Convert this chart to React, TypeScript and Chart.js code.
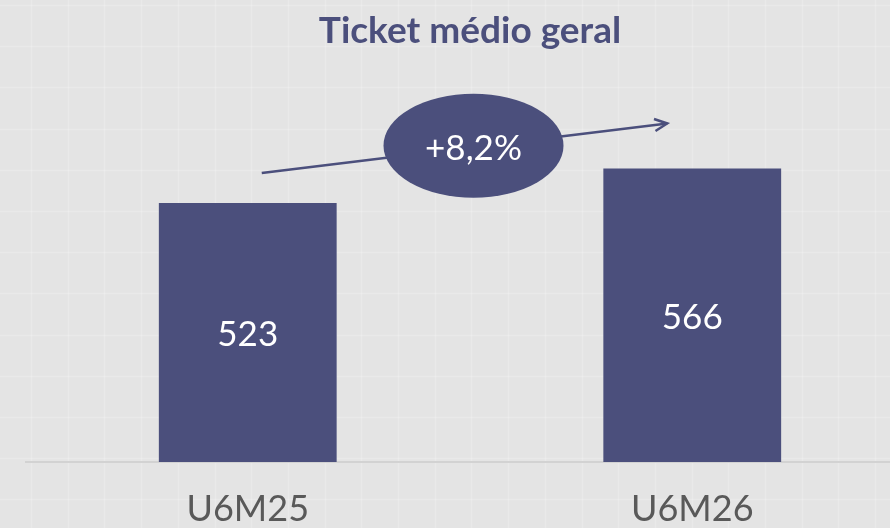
import React, { useEffect, useRef } from "react";
import { Chart, registerables } from "chart.js";

Chart.register(...registerables);

const categories = ["U6M25", "U6M26"];
const values = [523, 566];
const chartTitle = "Ticket médio geral";
const axisMin = 200;
const axisMax = 700;

const NAVY = "#4b4f7c";
const FONT = "Lato, 'Open Sans', sans-serif";

export default function App() {
  const ref = useRef<HTMLCanvasElement>(null);

  useEffect(() => {
    if (!ref.current) return;
    const change = values[1] / values[0] - 1;
    const changeLabel =
      (change >= 0 ? "+" : "") + (change * 100).toFixed(1).replace(".", ",") + "%";

    const bgPlugin = {
      id: "bg",
      beforeDraw(chart: any) {
        const { ctx, width, height } = chart;
        ctx.save();
        ctx.fillStyle = "#e4e4e4";
        ctx.fillRect(0, 0, width, height);
        ctx.strokeStyle = "rgba(255,255,255,0.2)";
        ctx.lineWidth = 1.5;
        for (let x = 31; x < width; x += 36.7) {
          ctx.beginPath();
          ctx.moveTo(Math.round(x) + 0.5, 0);
          ctx.lineTo(Math.round(x) + 0.5, height);
          ctx.stroke();
        }
        for (let y = 5; y < height; y += 41.2) {
          ctx.beginPath();
          ctx.moveTo(0, Math.round(y) + 0.5);
          ctx.lineTo(width, Math.round(y) + 0.5);
          ctx.stroke();
        }
        ctx.restore();
      },
    };

    const overlay = {
      id: "overlay",
      afterDatasetsDraw(chart: any) {
        const { ctx, chartArea } = chart;
        const meta = chart.getDatasetMeta(0);
        const b0 = meta.data[0];
        const b1 = meta.data[1];
        ctx.save();
        // value labels
        ctx.fillStyle = "#ffffff";
        ctx.font = `35px ${FONT}`;
        ctx.textAlign = "center";
        ctx.textBaseline = "alphabetic";
        meta.data.forEach((b: any, i: number) => {
          ctx.fillText(String(values[i]), b.x, (b.y + chartArea.bottom) / 2 + 13.5);
        });

        // arrow
        const x0 = b0.x + 14;
        const y0 = b0.y - 30;
        const x1 = b1.x - 25;
        const y1 = b1.y - 45;
        ctx.strokeStyle = NAVY;
        ctx.lineWidth = 2.5;
        ctx.beginPath();
        ctx.moveTo(x0, y0);
        ctx.lineTo(x1, y1);
        ctx.stroke();
        const ang = Math.atan2(y1 - y0, x1 - x0);
        const ah = 14;
        ctx.beginPath();
        ctx.moveTo(x1 - ah * Math.cos(ang - 0.45), y1 - ah * Math.sin(ang - 0.45));
        ctx.lineTo(x1, y1);
        ctx.lineTo(x1 - ah * Math.cos(ang + 0.45), y1 - ah * Math.sin(ang + 0.45));
        ctx.stroke();

        // ellipse
        const cx = (x0 + x1) / 2 + 9;
        const cy = (y0 + y1) / 2 - 2.5;
        ctx.fillStyle = NAVY;
        ctx.beginPath();
        ctx.ellipse(cx, cy, 90, 52, 0, 0, Math.PI * 2);
        ctx.fill();
        ctx.fillStyle = "#ffffff";
        ctx.font = `35px ${FONT}`;
        ctx.fillText(changeLabel, cx, cy + 14);

        // title
        ctx.fillStyle = NAVY;
        ctx.font = `bold 37px ${FONT}`;
        ctx.fillText(chartTitle, 470, 43);
        ctx.restore();
      },
    };

    const chart = new Chart(ref.current, {
      type: "bar",
      data: {
        labels: categories,
        datasets: [
          {
            data: values,
            backgroundColor: NAVY,
            borderWidth: 0,
            barPercentage: 0.4,
            categoryPercentage: 1,
          },
        ],
      },
      options: {
        animation: false,
        responsive: true,
        maintainAspectRatio: false,
        layout: { padding: { top: 61, left: 25.5, right: 25.5, bottom: 0 } },
        plugins: {
          legend: { display: false },
          tooltip: { enabled: false },
          title: { display: false },
        },
        scales: {
          y: { display: false, min: axisMin, max: axisMax },
          x: {
            grid: { display: false, drawTicks: false },
            border: { display: true, color: "#d2d2d2", width: 2 },
            ticks: {
              color: "#595959",
              font: { family: FONT, size: 36 },
              padding: 26,
            },
            afterFit(scale: any) {
              scale.height = 66;
            },
          },
        },
      },
      plugins: [bgPlugin, overlay],
    });
    return () => chart.destroy();
  }, []);

  return (
    <div
      style={{
        position: "fixed",
        left: 0,
        top: 0,
        width: 890,
        height: 528,
        overflow: "hidden",
        background: "#e4e4e4",
      }}
    >
      <div style={{ position: "relative", width: 940, height: 528 }}>
        <canvas ref={ref} />
      </div>
    </div>
  );
}
